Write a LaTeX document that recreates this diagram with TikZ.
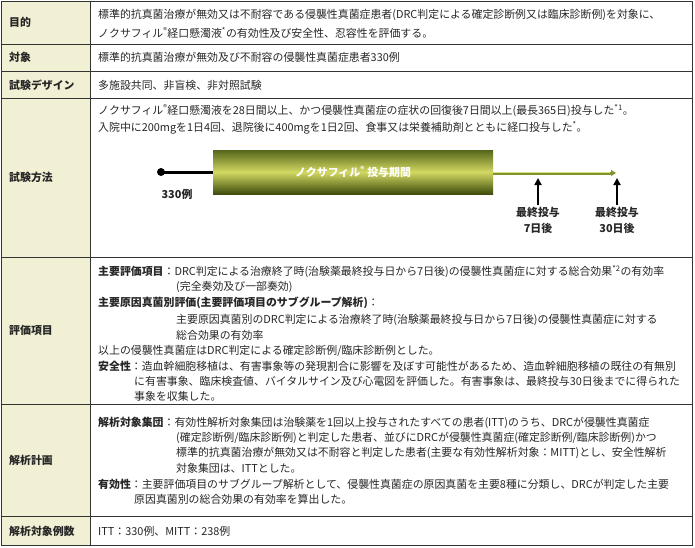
\documentclass[tikz,border=0pt]{standalone}
\usepackage{fontspec}
\setmainfont{Noto Sans CJK JP}
\usetikzlibrary{arrows.meta}
\definecolor{lab}{HTML}{F2F0D4}
\definecolor{bord}{HTML}{333333}
\definecolor{bdark}{HTML}{55661A}
\definecolor{bbot}{HTML}{3E4C0C}
\definecolor{bmid}{HTML}{D2D862}
\tikzset{t/.style={anchor=west,inner sep=0pt,font=\fontsize{10.9}{12}\selectfont,text=black!85},
 lb/.style={t,font=\fontsize{10.9}{12}\selectfont\bfseries},
 gr/.style={draw=bord,line width=0.7pt}}
\newcommand\tx[3]{\node[t] at (#1,#2) {#3};}
\newcommand\tb[3]{\node[lb] at (#1,#2) {#3};}
\newcommand\B[1]{{\bfseries #1}}
\begin{document}
\begin{tikzpicture}[x=1pt,y=-1pt]
\useasboundingbox (0,0) rectangle (695,547);
\fill[lab] (1,1) rectangle (90,545);
\draw[gr] (1,1) rectangle (692,545);
\draw[gr] (90,1) -- (90,545);
\foreach \y in {44,71,98,257,404,516} \draw[gr] (1,\y) -- (692,\y);
\tb{9}{22}{目的}
\tb{9}{57}{対象}
\tb{9}{85}{試験デザイン}
\tb{9}{177}{試験方法}
\tb{9}{330}{評価項目}
\tb{9}{460}{解析計画}
\tb{9}{531}{解析対象例数}
\tx{98}{15}{標準的抗真菌治療が無効又は不耐容である侵襲性真菌症患者(DRC判定による確定診断例又は臨床診断例)を対象に、}
\tx{98}{33}{ノクサフィル\textsuperscript{®}経口懸濁液\textsuperscript{*}の有効性及び安全性、忍容性を評価する。}
\tx{98}{57}{標準的抗真菌治療が無効及び不耐容の侵襲性真菌症患者330例}
\tx{98}{85}{多施設共同、非盲検、非対照試験}
\tx{98}{111}{ノクサフィル\textsuperscript{®}経口懸濁液を28日間以上、かつ侵襲性真菌症の症状の回復後7日間以上(最長365日)投与した\textsuperscript{*1}。}
\tx{98}{128}{入院中に200mgを1日4回、退院後に400mgを1日2回、食事又は栄養補助剤とともに経口投与した\textsuperscript{*}。}
\coordinate (s) at (161,172);
\shade[top color=bdark, bottom color=bbot, middle color=bmid] (213,150) rectangle (493,194);
\node[minimum width=280pt,minimum height=44pt,inner sep=0pt] (bar) at (353,172) {};
\node[font=\fontsize{10.9}{12}\selectfont\bfseries,text=white] at (bar) {ノクサフィル\textsuperscript{®} 投与期間};
\draw[line width=3pt] (s) -- (bar.west |- s);
\fill (s) circle (4pt);
\coordinate (e) at (616,173);
\draw[line width=3pt,draw={rgb,255:red,130;green,148;blue,40},-{Triangle[length=5pt,width=6pt]}] (bar.east |- e) -- (e);
\draw[line width=0.8pt,draw={rgb,255:red,215;green,222;blue,140}] (bar.east |- 0,172.5) -- (610,172.5);
\node[lb,anchor=center] at (177,194) {330例};
\coordinate (a1) at (538,178); \coordinate (a2) at (617,178);
\draw[line width=1.8pt,-{Triangle[length=7pt,width=7pt]}] (538,205) -- (a1);
\draw[line width=1.8pt,-{Triangle[length=7pt,width=7pt]}] (617,205) -- (a2);
\node[lb,anchor=center] at (538,212) {最終投与};
\node[lb,anchor=center] at (538,228) {7日後};
\node[lb,anchor=center] at (617,212) {最終投与};
\node[lb,anchor=center] at (617,228) {30日後};
\tx{98}{272}{\B{主要評価項目}：DRC判定による治療終了時(治験薬最終投与日から7日後)の侵襲性真菌症に対する総合効果\textsuperscript{*2}の有効率}
\tx{176}{287}{(完全奏効及び一部奏効)}
\tx{98}{303}{\B{主要原因真菌別評価(主要評価項目のサブグループ解析)}：}
\tx{176}{320}{主要原因真菌別のDRC判定による治療終了時(治験薬最終投与日から7日後)の侵襲性真菌症に対する}
\tx{176}{335}{総合効果の有効率}
\tx{98}{351}{以上の侵襲性真菌症はDRC判定による確定診断例/臨床診断例とした。}
\tx{98}{366}{\B{安全性}：造血幹細胞移植は、有害事象等の発現割合に影響を及ぼす可能性があるため、造血幹細胞移植の既往の有無別}
\tx{134}{381}{に有害事象、臨床検査値、バイタルサイン及び心電図を評価した。有害事象は、最終投与30日後までに得られた}
\tx{134}{396}{事象を収集した。}
\tx{98}{423}{\B{解析対象集団}：有効性解析対象集団は治験薬を1回以上投与されたすべての患者(ITT)のうち、DRCが侵襲性真菌症}
\tx{176}{438}{(確定診断例/臨床診断例)と判定した患者、並びにDRCが侵襲性真菌症(確定診断例/臨床診断例)かつ}
\tx{176}{453}{標準的抗真菌治療が無効又は不耐容と判定した患者(主要な有効性解析対象：MITT)とし、安全性解析}
\tx{176}{468}{対象集団は、ITTとした。}
\tx{98}{484}{\B{有効性}：主要評価項目のサブグループ解析として、侵襲性真菌症の原因真菌を主要8種に分類し、DRCが判定した主要}
\tx{134}{499}{原因真菌別の総合効果の有効率を算出した。}
\tx{98}{531}{ITT：330例、MITT：238例}
\end{tikzpicture}
\end{document}
